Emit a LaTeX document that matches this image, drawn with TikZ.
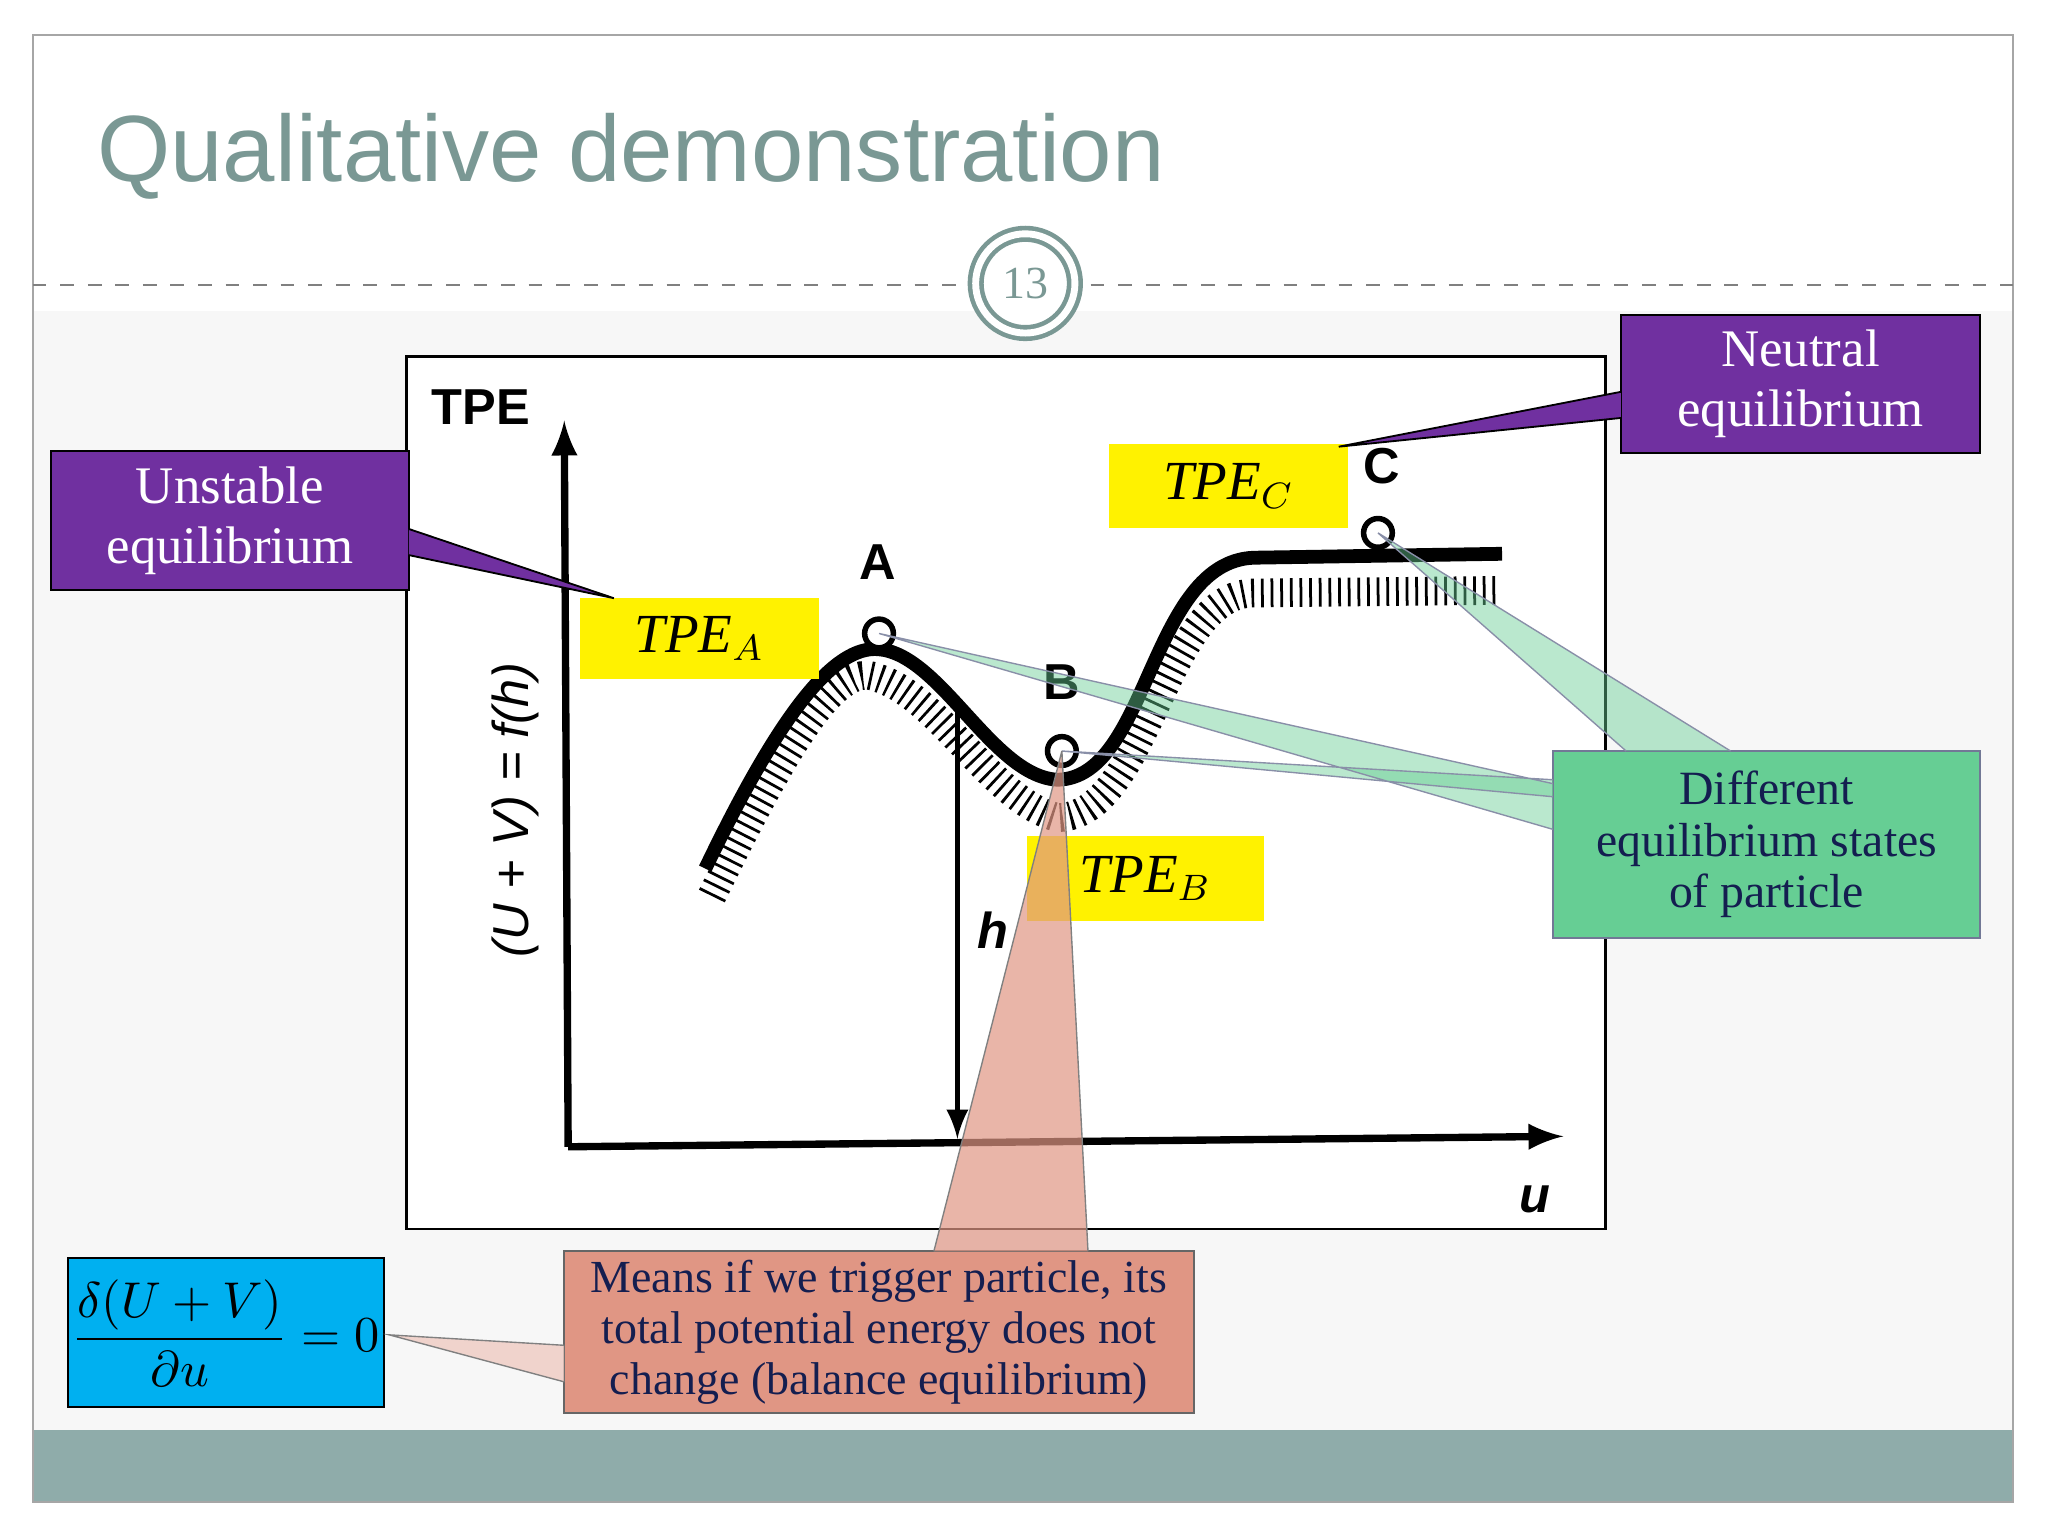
\documentclass[tikz,border=0pt]{standalone}
\usepackage{fontspec}
\setmainfont{Liberation Serif}
\newfontfamily\arial{Liberation Sans}
\begin{document}
\begin{tikzpicture}[x=0.01cm,y=-0.01cm]
\definecolor{ttl}{RGB}{122,152,148}
\definecolor{foot}{RGB}{143,172,170}
\definecolor{purp}{RGB}{112,48,160}
\definecolor{grn}{RGB}{102,206,148}
\definecolor{salm}{RGB}{224,150,132}
\definecolor{cyanb}{RGB}{0,176,240}
\definecolor{navy}{RGB}{20,30,80}
\tikzset{lab/.style={font=\arial\fontsize{11pt}{11pt}\selectfont\bfseries},
 ybox/.style={fill=yellow,inner sep=0},
 pbox/.style={draw=black,fill=purp,text=white,align=center,font=\fontsize{11.5pt}{13pt}\selectfont},
 pt/.style={draw=black,line width=1.2pt,fill=white,circle,minimum size=22*0.01cm,inner sep=0}}
\useasboundingbox (0,0) rectangle (1568,1176);
\fill[white] (0,0) rectangle (1568,1176);
\fill[gray!6] (25,238) rectangle (1541,1095);
\fill[foot] (25,1095) rectangle (1541,1150);
\draw[gray!70] (25,27) rectangle (1541,1150);
\node[anchor=west,text=ttl,font=\arial\fontsize{20.5pt}{20.5pt}\selectfont] (title) at (62,120) {Qualitative demonstration};
\draw[gray,dashed] (25,218) -- (735,218) (835,218) -- (1541,218);
\node[circle,draw=ttl,fill=white,line width=1pt,minimum size=76*0.01cm,double=white,double distance=1.5pt,text=ttl,font=\fontsize{10pt}{10pt}\selectfont] (pg) at (785,217) {13};
% plot
\draw[fill=white,line width=0.6pt] (311,273) rectangle (1229,941);
\coordinate (o) at (435,878);
\coordinate (yt) at (432,322);
\coordinate (xt) at (1197,870);
\draw[line width=1.6pt,-latex] (o) -- (yt);
\draw[line width=1.6pt,-latex] (o) -- (xt);
\node[lab] (tpe) at (368,312) {TPE};
\node[lab] (ul) at (1175,918) {\itshape u};
\node[lab,rotate=90,font=\arial\fontsize{11pt}{11pt}\selectfont] (fl) at (395,620) {\itshape(U + V) = f(h)};
\node[lab] (hl) at (760,712) {\itshape h};
\draw[line width=22*0.01cm,dash pattern=on 0.6pt off 1.5pt,yshift=-0.14cm]
 (545,672) .. controls (600,560) and (640,490) .. (672,505) .. controls (720,520) and (760,600) .. (810,612) .. controls (880,610) and (890,440) .. (960,440) -- (1150,438);
\draw[line width=3pt] (540,665) .. controls (600,540) and (640,495) .. (672,497) .. controls (720,500) and (760,595) .. (810,597) .. controls (880,595) and (880,430) .. (960,427) -- (1150,424);
\coordinate (hs) at (733,545);
\coordinate (he) at (733,872);
\draw[line width=1.2pt,-latex] (hs) -- (he);
\node[pt] (A) at (673,485) {};
\node[pt] (B) at (813,575) {};
\node[pt] (C) at (1055,408) {};
\node[lab] at (672,430) {A};
\node[lab] at (813,522) {B};
\node[lab] at (1058,357) {C};
% callouts green
\node[draw=navy!60,fill=grn,text=navy,align=center,minimum width=327*0.01cm,minimum height=143*0.01cm,font=\fontsize{10.4pt}{11.2pt}\selectfont] (G) at (1352.5,646.5) {Different\\equilibrium states\\of particle};
\fill[grn,opacity=0.45] (A.center) -- (1189,600) -- (1189,635) -- cycle;
\fill[grn,opacity=0.45] (B.center) -- (1189,597) -- (1189,610) -- cycle;
\fill[grn,opacity=0.45] (C.center) -- (1245,575) -- (1325,575) -- cycle;
\draw[navy!50,line width=0.3pt] (A.center) -- (1189,600) (A.center) -- (1189,635) (B.center) -- (1189,597) (B.center) -- (1189,610) (C.center) -- (1245,575) (C.center) -- (1325,575);
% yellow
\node[ybox,minimum width=183*0.01cm,minimum height=62*0.01cm,font=\fontsize{12pt}{12pt}\selectfont\itshape] (ta) at (535.5,489) {TPE$_A$};
\node[ybox,minimum width=183*0.01cm,minimum height=64*0.01cm,font=\fontsize{12pt}{12pt}\selectfont\itshape] (tc) at (940.5,372) {TPE$_C$};
\node[ybox,minimum width=182*0.01cm,minimum height=65*0.01cm,font=\fontsize{12pt}{12pt}\selectfont\itshape] (tb) at (877,672.5) {TPE$_B$};
% purple
\node[pbox,minimum width=274*0.01cm,minimum height=91*0.01cm] (U) at (176,398.5) {Unstable\\equilibrium};
\node[pbox,minimum width=275*0.01cm,minimum height=92*0.01cm] (N) at (1378.5,294) {Neutral\\equilibrium};
\coordinate (up) at (470,458);
\coordinate (np) at (1025,342);
\fill[purp] (313,405) -- (up) -- (313,425) -- cycle;
\draw (313,405) -- (up) -- (313,425);
\fill[purp] (1241,300) -- (np) -- (1241,320) -- cycle;
\draw (1241,300) -- (np) -- (1241,320);
% red
\node[draw=black!60,fill=salm,minimum width=482*0.01cm,minimum height=124*0.01cm,inner sep=0,align=center,text=navy,font=\fontsize{10pt}{11.2pt}\selectfont] (R) at (673,1020) {Means if we trigger particle, its\\total potential energy does not\\change (balance equilibrium)};
\fill[salm,opacity=0.7] (B.center) -- (715,958) -- (833,958) -- cycle;
\draw[black!50,line width=0.3pt] (B.center) -- (715,958) (B.center) -- (833,958);
\node[draw=black,fill=cyanb,minimum width=242*0.01cm,minimum height=114*0.01cm,inner sep=0,font=\fontsize{10.5pt}{10.5pt}\selectfont] (F) at (173,1020) {$\displaystyle\frac{\delta\bigl(U+V\bigr)}{\partial u}=0$};
\coordinate (fp) at (298,1022);
\fill[salm!50,opacity=0.8] (fp) -- (432,1030) -- (432,1058) -- cycle;
\draw[black!50,line width=0.3pt] (432,1030) -- (fp) -- (432,1058);
\end{tikzpicture}
\end{document}
